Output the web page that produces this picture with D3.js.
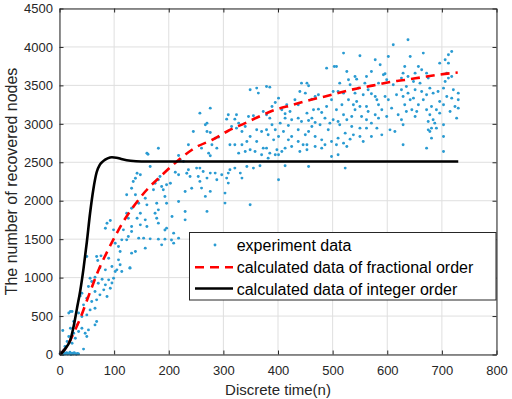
<!DOCTYPE html>
<html><head><meta charset="utf-8">
<script src="https://cdn.jsdelivr.net/npm/d3@7"></script>
<style>body{margin:0;background:#fff}svg{display:block;font-family:"Liberation Sans",Arial,Helvetica,sans-serif}</style>
</head><body><svg id="c" width="512" height="399"></svg>
<script>
const xTicks=[0,100,200,300,400,500,600,700,800];
const yTicks=[0,500,1000,1500,2000,2500,3000,3500,4000,4500];
const xLabel="Discrete time(n)";
const yLabel="The number of recovered nodes";
const legendLabels=["experiment data","calculated data of fractional order","calculated data of integer order"];

const fracN=[0,10,20,26,38,50,59,68,84,99,117,135,157,187,218,242,251,279,309,340,367,395,428,453,486,512,545,575,605,632,663,693,729];
const fracV=[0,70,190,280,470,700,870,1040,1290,1500,1730,1920,2120,2330,2530,2660,2700,2790,2910,3010,3100,3183,3248,3300,3356,3405,3460,3500,3545,3570,3605,3638,3668];

const intN=[0,4,10,14,20,26,32,38,44,50,56,62,68,74,80,88,96,104,115,130,150,180,730];
const intV=[0,20,70,110,190,370,600,830,1120,1460,1840,2150,2370,2470,2515,2550,2565,2560,2540,2520,2510,2510,2510];

const experimentPoints=[
[1,10],[3,5],[5,15],[7,0],[9,20],[11,8],[13,25],[15,5],[17,12],[19,30],[21,0],[23,18],[25,6],[27,22],[29,10],[31,3],[33,15],[35,8],[2,25],[6,35],
[6,312],[8,60],[10,104],[14,169],[17,234],[20,342],[23,147],[26,277],[29,212],[17,540],[20,560],[23,559],[26,429],[32,385],[35,299],[41,342],[47,277],[50,234],[53,320],[41,494],[50,515],[44,646],[56,580],[65,602],[65,385],[68,429],[38,762],[41,797],[50,732],[59,689],[68,711],[74,776],[87,754],[65,819],[81,841],[93,862],[53,884],[84,906],[71,927],[59,949],[56,992],[65,1005],[78,979],[90,971],[99,992],[96,929],[84,1101],[96,1144],[105,1101],[114,1079],[102,1080],[70,1222],[76,1283],[90,1252],[108,1231],[111,1167],[74,1128],[129,1128],[50,1275],[68,1275],[111,1339],[108,1404],[102,1447],[114,1491],[84,1642],[87,1707],[93,1742],[99,1621],[117,1621],[35,540],[44,70],
[181,2683],[162,2605],[218,2588],[236,2727],[221,2532],[227,2510],[166,2445],[142,2358],[148,2337],[139,2293],[135,2250],[184,2315],[181,2272],[175,2228],[196,2207],[203,2228],[212,2371],[218,2337],[233,2358],[236,2402],[239,2315],[187,2185],[190,2142],[172,2142],[132,2163],[139,2077],[123,2077],[157,2033],[193,2055],[230,2120],[242,2163],[145,1968],[160,1946],[178,1968],[196,1968],[218,1990],[132,1903],[123,1838],[148,1838],[181,1881],[175,1838],[230,1860],[126,1773],[142,1773],[157,1751],[178,1773],[181,1708],[206,1795],[230,1751],[148,1686],[132,1665],[160,1665],[196,1643],[132,1600],[126,1535],[123,1491],[145,1513],[154,1513],[166,1504],[181,1500],[193,1500],[218,1513],[209,1578],[209,1448],[139,1340],[132,1318],[157,1383],[129,1123],[193,1620],[205,1490],[187,1426],[160,2619],[245,2900],[270,3009],
[349,3443],[361,3465],[364,3400],[276,3204],[257,3139],[309,3118],[324,3118],[321,3061],[346,3096],[355,3105],[373,3161],[267,2988],[306,3061],[328,3009],[340,2966],[270,2901],[276,2888],[315,2966],[324,2944],[334,2901],[361,2923],[370,2901],[285,2814],[291,2827],[349,2836],[343,2771],[361,2771],[260,2684],[279,2728],[288,2684],[312,2728],[321,2728],[334,2728],[349,2663],[358,2641],[373,2684],[273,2619],[276,2585],[328,2619],[340,2641],[370,2598],[251,2424],[257,2424],[263,2381],[276,2359],[285,2359],[297,2337],[309,2359],[312,2402],[321,2424],[343,2446],[355,2424],[367,2455],[254,2316],[270,2294],[288,2272],[306,2294],[331,2359],[257,2251],[260,2164],[309,2229],[276,2121],[267,2056],[303,2099],[334,2294],[349,1947],[270,1861],[303,1969],
[489,3724],[443,3529],[453,3529],[456,3495],[379,3486],[385,3477],[440,3421],[450,3399],[474,3378],[468,3356],[501,3421],[401,3334],[431,3313],[462,3321],[498,3313],[395,3278],[389,3226],[416,3248],[437,3248],[489,3226],[474,3191],[407,3183],[413,3131],[422,3161],[453,3139],[465,3183],[480,3148],[379,3118],[385,3074],[413,3074],[425,3053],[437,3074],[462,3074],[486,3074],[501,3053],[443,3031],[456,3044],[468,3018],[389,2988],[404,3009],[419,2979],[462,2966],[477,2988],[495,3009],[379,2923],[395,2923],[410,2901],[437,2923],[456,2901],[492,2923],[382,2858],[401,2836],[425,2836],[450,2858],[468,2836],[480,2792],[392,2792],[419,2792],[437,2771],[446,2727],[453,2727],[486,2727],[498,2771],[379,2684],[398,2662],[413,2684],[425,2706],[468,2706],[480,2684],[385,2619],[395,2597],[407,2641],[440,2641],[453,2662],[498,2576],[382,2554],[401,2597],[413,2454],[456,2446],[401,2272],[503,3746],
[611,4028],[520,3920],[550,3885],[602,3876],[507,3746],[578,3833],[587,3768],[526,3681],[571,3681],[593,3638],[596,3651],[541,3616],[544,3581],[529,3573],[562,3616],[599,3573],[513,3529],[532,3508],[559,3529],[584,3529],[611,3508],[547,3464],[565,3443],[510,3421],[520,3399],[541,3399],[556,3378],[571,3391],[578,3356],[596,3356],[617,3378],[529,3313],[544,3291],[581,3313],[602,3313],[538,3248],[550,3226],[562,3226],[584,3248],[517,3248],[507,3183],[541,3183],[565,3161],[590,3183],[608,3204],[520,3118],[535,3096],[553,3096],[578,3118],[599,3096],[620,3118],[510,3031],[526,3053],[562,3053],[584,3074],[571,3009],[513,2988],[535,2966],[550,2944],[562,2944],[581,2944],[605,2922],[614,2901],[523,2879],[538,2857],[590,2857],[510,2814],[532,2801],[550,2836],[571,2836],[520,2749],[507,2727],[526,2706],[556,2771],[510,2597],[523,2424],
[638,4093],[718,3941],[712,3898],[666,3920],[642,3876],[706,3833],[696,3789],[712,3789],[632,3746],[657,3746],[663,3703],[672,3659],[651,3659],[629,3659],[709,3659],[626,3595],[638,3616],[675,3595],[712,3595],[718,3616],[648,3551],[660,3529],[706,3551],[635,3486],[678,3464],[703,3464],[626,3443],[651,3443],[721,3443],[638,3399],[663,3421],[684,3399],[693,3421],[730,3399],[629,3356],[648,3334],[672,3378],[709,3356],[718,3334],[642,3313],[666,3313],[696,3291],[730,3313],[632,3248],[657,3248],[681,3226],[703,3248],[724,3226],[645,3183],[672,3183],[690,3183],[635,3161],[654,3161],[696,3139],[715,3161],[730,3204],[678,3118],[651,3096],[727,3074],[626,3053],[675,3031],[684,3053],[687,3009],[629,2988],[703,2988],[681,2944],[675,2922],[690,2944],[678,2901],[703,2836],[681,2814],[629,2727],[672,2684],[703,2641]
];

const svg=d3.select("#c");
const L=59.5,R=496.5,T=8.5,B=354.5;
const x=d3.scaleLinear().domain([0,800]).range([L,R]);
const y=d3.scaleLinear().domain([0,4500]).range([B,T]);
const axisCol="#262626";
const ptCol="#2a9bd2";

svg.append("rect").attr("x",L).attr("y",T).attr("width",R-L).attr("height",B-T).attr("fill","#fff");

// grid
const g=svg.append("g").attr("stroke","#dfdfdf").attr("stroke-width",1);
g.selectAll(".vx").data(xTicks).join("line").attr("x1",d=>x(d)).attr("x2",d=>x(d)).attr("y1",T).attr("y2",B);
g.selectAll(".hy").data(yTicks).join("line").attr("y1",d=>y(d)).attr("y2",d=>y(d)).attr("x1",L).attr("x2",R);

// scatter
svg.append("g").selectAll("circle").data(experimentPoints).join("circle")
  .attr("cx",d=>x(d[0])).attr("cy",d=>y(d[1])).attr("r",1.45).attr("fill",ptCol);

const line=d3.line().x(d=>x(d[0])).y(d=>y(d[1])).curve(d3.curveMonotoneX);
svg.append("path").datum(fracN.map((n,i)=>[n,fracV[i]])).attr("d",line)
  .attr("fill","none").attr("stroke","#ff0000").attr("stroke-width",2.6).attr("stroke-dasharray","9,6");
svg.append("path").datum(intN.map((n,i)=>[n,intV[i]])).attr("d",line)
  .attr("fill","none").attr("stroke","#000").attr("stroke-width",2.6);

// axes
const fmt=d3.format("d");
function styleAxis(sel){
  sel.selectAll("path").attr("stroke",axisCol);
  sel.selectAll("line").attr("stroke",axisCol);
  sel.selectAll("text").attr("fill","#262626").style("font-size","13px").style("font-family",'"Liberation Sans",Arial,sans-serif');
}
svg.append("g").attr("transform",`translate(0,${B})`)
  .call(d3.axisBottom(x).tickValues(xTicks).tickFormat(fmt).tickSize(-4).tickSizeOuter(0).tickPadding(11)).call(styleAxis);
svg.append("g").attr("transform",`translate(${L},0)`)
  .call(d3.axisLeft(y).tickValues(yTicks).tickFormat(fmt).tickSize(-4).tickSizeOuter(0).tickPadding(6.5)).call(styleAxis);
svg.append("g").attr("transform",`translate(0,${T})`)
  .call(d3.axisTop(x).tickValues(xTicks).tickSize(-4).tickSizeOuter(0).tickFormat("")).call(styleAxis);
svg.append("g").attr("transform",`translate(${R},0)`)
  .call(d3.axisRight(y).tickValues(yTicks).tickSize(-4).tickSizeOuter(0).tickFormat("")).call(styleAxis);
svg.selectAll(".domain").attr("stroke-width",1);

// labels
svg.append("text").attr("x",(L+R)/2).attr("y",395).attr("text-anchor","middle")
  .style("font-size","15px").attr("fill","#262626").text(xLabel);
svg.append("text").attr("transform",`translate(16.7,${(T+B)/2}) rotate(-90)`).attr("text-anchor","middle")
  .style("font-size","16px").attr("fill","#262626").text(yLabel);

// legend
const lg=svg.append("g");
lg.append("rect").attr("x",189.5).attr("y",232.5).attr("width",306.5).attr("height",67.5)
  .attr("fill","#fff").attr("stroke","#262626").attr("stroke-width",1);
lg.append("circle").attr("cx",215).attr("cy",245).attr("r",1.45).attr("fill",ptCol);
lg.append("line").attr("x1",195).attr("x2",233).attr("y1",267.3).attr("y2",267.3)
  .attr("stroke","#ff0000").attr("stroke-width",2.6).attr("stroke-dasharray","9,6");
lg.append("line").attr("x1",195).attr("x2",233).attr("y1",288.5).attr("y2",288.5)
  .attr("stroke","#000").attr("stroke-width",2.6);
const ly=[250.7,273.3,295];
lg.selectAll("text").data(legendLabels).join("text").attr("x",236.7).attr("y",(d,i)=>ly[i])
  .style("font-size","16px").attr("fill","#000").text(d=>d);
</script></body></html>
